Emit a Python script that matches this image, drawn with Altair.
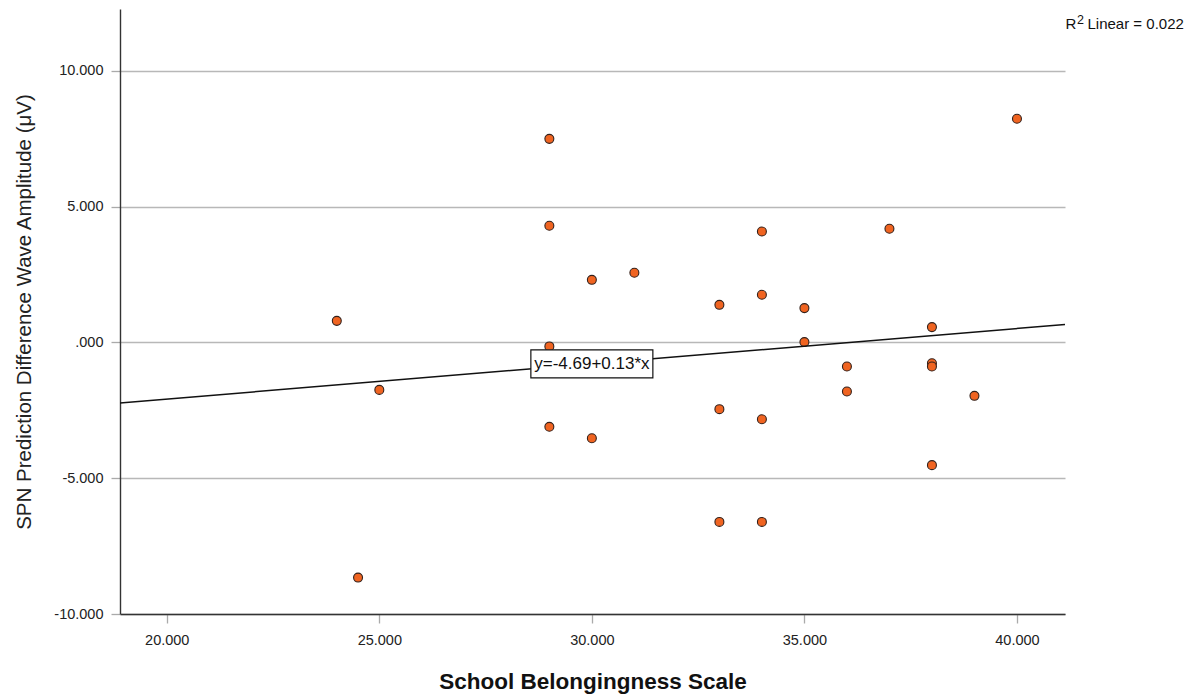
import altair as alt
import pandas as pd

# School belongingness score and SPN prediction difference wave amplitude per participant
belonging = [24, 24.5, 25, 29, 29, 29, 29, 30, 30, 31, 33, 33, 33, 34, 34, 34, 34,
             35, 35, 36, 36, 37, 38, 38, 38, 38, 39, 40]
spn_amp = [0.79, -8.66, -1.75, 7.49, 4.29, -0.15, -3.11, 2.30, -3.53, 2.56, 1.38, -2.46,
           -6.61, 4.08, 1.75, -2.83, -6.61, 1.26, 0.01, -0.89, -1.81, 4.18, 0.56, -0.77,
           -0.89, -4.52, -1.97, 8.23]

# Fitted linear model
intercept = -4.69
slope = 0.13
r_squared = 0.022
label_at = 30  # x at which the fit equation is written

x_ticks = [20, 25, 30, 35, 40]
y_ticks = [-10, -5, 0, 5, 10]
x_domain = [18.9, 41.13]
y_domain = [-10, 12.27]

FONT = "Liberation Sans"
ORANGE = "#f06421"

points_df = pd.DataFrame({"belong": belonging, "spn": spn_amp})
line_df = pd.DataFrame({"belong": x_domain})
label_df = pd.DataFrame({"belong": [label_at]})
r2_df = pd.DataFrame({"txt": [f"Linear = {r_squared:.3f}"]})

x_scale = alt.Scale(domain=x_domain, nice=False, zero=False)
y_scale = alt.Scale(domain=y_domain, nice=False, zero=False)

x_axis = alt.Axis(
    values=x_ticks, format=".3f", grid=False,
    title="School Belongingness Scale",
    titleFont=FONT, titleFontSize=22.5, titleFontWeight="bold", titleColor="#111",
    titlePadding=24,
    labelFont=FONT, labelFontSize=14.5, labelColor="#222", labelPadding=10,
    domainColor="#333", domainWidth=1.4, tickColor="#aaa", tickSize=9, tickWidth=1.3,
)
# SPSS-style labels: ".000" for zero and a plain hyphen for negatives
y_axis = alt.Axis(
    values=y_ticks, grid=True, gridColor="#b8b8b8", gridWidth=1.3,
    labelExpr="datum.value == 0 ? '.000' : replace(format(datum.value, '.3f'), '\u2212', '-')",
    title="SPN Prediction Difference Wave Amplitude (\u03bcV)",
    titleFont=FONT, titleFontSize=20.5, titleFontWeight="normal", titleColor="#222",
    titlePadding=19,
    labelFont=FONT, labelFontSize=14.5, labelColor="#222", labelPadding=8,
    domainColor="#333", domainWidth=1.4, tickColor="#aaa", tickSize=9, tickWidth=1.3,
)

points = alt.Chart(points_df).mark_point(
    shape="circle", filled=True, size=80, fill=ORANGE, stroke="#33201a",
    strokeWidth=1.1, opacity=1
).encode(
    x=alt.X("belong:Q", scale=x_scale, axis=x_axis),
    y=alt.Y("spn:Q", scale=y_scale, axis=y_axis),
)

fit_line = alt.Chart(line_df).transform_calculate(
    fit=f"{intercept} + {slope} * datum.belong"
).mark_line(color="#111", strokeWidth=1.5, clip=True).encode(
    x=alt.X("belong:Q", scale=x_scale),
    y=alt.Y("fit:Q", scale=y_scale),
)

label_base = alt.Chart(label_df).transform_calculate(
    fit=f"{intercept} + {slope} * datum.belong"
)
label_box = label_base.mark_rect(
    fill="white", stroke="#111", strokeWidth=1.2,
    xOffset=-61, x2Offset=61, yOffset=-14, y2Offset=14
).encode(
    x=alt.X("belong:Q", scale=x_scale),
    x2="belong:Q",
    y=alt.Y("fit:Q", scale=y_scale),
    y2="fit:Q",
)
label_text = label_base.mark_text(
    font=FONT, fontSize=17, color="#111", align="center", baseline="middle"
).encode(
    x=alt.X("belong:Q", scale=x_scale),
    y=alt.Y("fit:Q", scale=y_scale),
    text=alt.value(f"y={intercept}+{slope}*x"),
)

# R-squared note in the top-right corner: "R", raised "2", then the value
r2_base = alt.Chart(r2_df)
r2_r = r2_base.mark_text(
    font=FONT, fontSize=15, color="#111", align="left", baseline="alphabetic"
).encode(x=alt.value(945.5), y=alt.value(20), text=alt.value("R"))
r2_sup = r2_base.mark_text(
    font=FONT, fontSize=12.5, color="#111", align="left", baseline="alphabetic"
).encode(x=alt.value(957), y=alt.value(14.7), text=alt.value("2"))
r2_rest = r2_base.mark_text(
    font=FONT, fontSize=15, color="#111", align="left", baseline="alphabetic"
).encode(x=alt.value(967.5), y=alt.value(20), text="txt:N")

chart = alt.layer(
    points, fit_line, label_box, label_text, r2_r, r2_sup, r2_rest
).properties(
    width=945, height=605,
    padding={"left": 120, "top": 9, "right": 130, "bottom": 81},
    autosize=alt.AutoSizeParams(type="none"),
    background="white",
).configure_view(strokeWidth=0, stroke="transparent")

chart.save("out.html", embed_options={"renderer": "svg", "actions": False})
